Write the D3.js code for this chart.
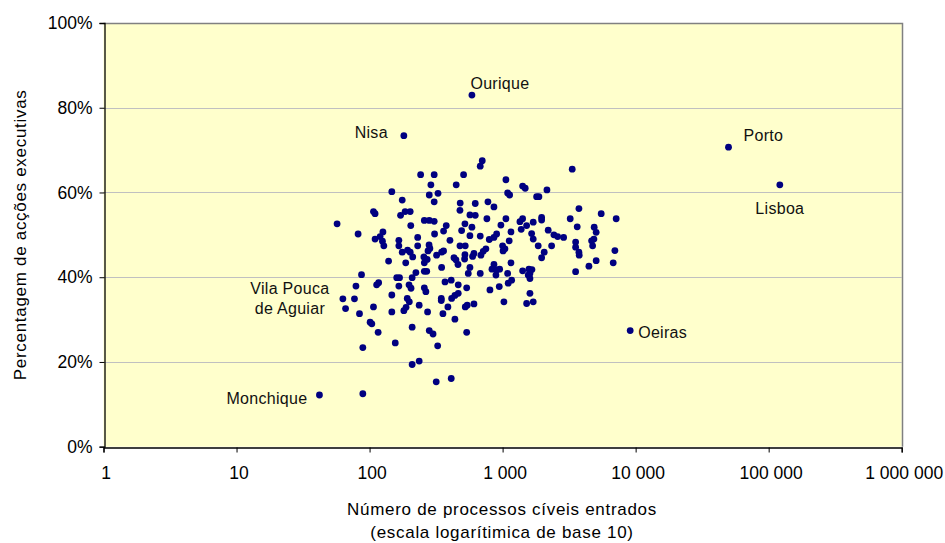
<!DOCTYPE html>
<html lang="pt">
<head>
<meta charset="utf-8">
<script src="https://cdn.jsdelivr.net/npm/d3@7"></script>
<style>
  html, body { margin: 0; padding: 0; background: #ffffff; }
  svg { display: block; font-family: "Liberation Sans", Arial, sans-serif; }
</style>
</head>
<body>
<svg id="chart" width="945" height="543"></svg>
<script>
// Número de processos cíveis entrados por comarca
const processos = [
  703, 679, 242, 306, 509, 289, 448, 147, 281, 327,
  176, 306, 480, 623, 776, 107, 110, 478, 185, 202,
  171, 568, 623, 762, 258, 281, 306, 57, 204, 521,
  377, 588, 360, 492, 82, 126, 120, 110, 125, 128,
  308, 230, 568, 679, 794, 166, 402, 280, 284, 275,
  166, 230, 478, 524, 176, 193, 202, 319, 348, 360,
  521, 518, 609, 595, 749, 715, 687, 211, 256, 271,
  258, 431, 446, 139, 187, 462, 348, 568, 552, 679,
  87, 160, 168, 223, 209, 258, 269, 369, 411, 79,
  113, 117, 166, 198, 205, 258, 265, 464, 537, 803,
  77, 147, 192, 199, 346, 346, 414, 438, 464, 107,
  188, 181, 236, 388, 524, 542, 609, 66, 84, 147,
  273, 356, 438, 101, 104, 116, 209, 281, 300, 537,
  156, 89, 325, 209, 236, 317, 411, 89,
  3337, 1059, 1414, 1479, 2154, 1091, 1129, 1802, 1875, 861,
  3747, 5510, 7140, 1059, 1414, 1350, 1380, 1965, 1965, 1699,
  1516, 3223, 3638, 971, 1155, 2202, 2430, 2592, 2875, 1653,
  1699, 4880, 5050, 902, 861, 1121, 4857, 4667, 4750, 3539,
  3539, 3747, 3766, 1000, 1041, 1008, 1852, 2336, 6985, 2055,
  1965, 5050, 6784, 4455, 1155, 861, 1414, 1577, 1661, 1605,
  1558, 1605, 3539, 832, 902, 950, 891, 1091, 1169, 1102,
  944, 1023, 1605, 1516, 1699
];

// Percentagem de acções executivas (%) na mesma ordem
const percentagem = [
  67.5, 66.2, 64.2, 64.2, 64.2, 61.8, 61.8, 60.2, 59.4, 59.8,
  58.2, 57.8, 57.5, 57.4, 57.8, 55.5, 55.0, 55.8, 55.5, 55.5,
  54.6, 54.7, 54.6, 53.8, 53.4, 53.4, 53.2, 52.6, 52.2, 52.6,
  52.2, 51.8, 50.9, 51.0, 50.2, 50.7, 49.6, 49.0, 48.5, 47.4,
  50.2, 49.4, 49.8, 49.7, 48.9, 48.7, 48.7, 47.6, 46.8, 46.2,
  47.4, 47.4, 47.4, 47.4, 45.9, 46.4, 45.9, 45.2, 45.9, 46.2,
  45.3, 44.3, 45.6, 44.9, 46.7, 46.1, 45.2, 44.8, 44.8, 44.2,
  43.4, 44.6, 44.1, 43.8, 43.4, 43.0, 42.3, 42.3, 40.9, 40.9,
  40.6, 39.9, 39.9, 41.1, 39.9, 41.4, 41.4, 38.9, 39.3, 37.9,
  38.2, 38.7, 37.9, 38.2, 37.4, 37.5, 36.6, 38.2, 37.5, 37.0,
  34.9, 35.8, 35.0, 34.2, 35.0, 34.5, 35.0, 35.7, 36.2, 33.0,
  32.9, 32.1, 33.4, 33.0, 33.0, 33.4, 33.7, 32.6, 31.4, 31.8,
  31.8, 31.4, 30.1, 29.4, 29.0, 27.0, 28.2, 27.4, 26.6, 27.0,
  24.5, 23.4, 23.8, 19.4, 20.2, 15.3, 16.1, 12.5,
  65.5, 63.0, 61.5, 61.0, 60.6, 59.9, 59.4, 59.0, 59.0, 56.6,
  56.2, 55.0, 53.8, 53.8, 53.8, 53.1, 51.3, 54.1, 53.5, 53.0,
  52.2, 53.8, 51.9, 52.3, 50.7, 51.1, 50.0, 49.6, 49.4, 50.3,
  49.0, 51.8, 50.6, 50.2, 49.4, 48.6, 49.0, 48.6, 47.4, 48.3,
  47.1, 45.9, 45.2, 47.4, 46.7, 46.2, 47.4, 47.4, 46.3, 45.9,
  44.6, 43.9, 43.4, 42.6, 43.4, 43.0, 41.5, 41.9, 41.8, 40.9,
  40.5, 39.7, 41.3, 41.9, 41.7, 41.9, 40.5, 40.9, 39.3, 38.6,
  37.8, 34.2, 36.2, 33.8, 34.2
];

// Comarcas assinaladas com o nome
const destaqueNomes = ["Ourique", "Nisa", "Porto", "Lisboa", "Oeiras", "Monchique", "Vila Pouca de Aguiar"];
const destaqueProcessos = [588, 181, 49900, 121300, 9100, 42, 63];
const destaquePercentagem = [83.0, 73.4, 70.7, 61.8, 27.4, 12.2, 34.9];

// Marcas dos eixos
const xTicks = [1, 10, 100, 1000, 10000, 100000, 1000000];
const yTicks = [0, 20, 40, 60, 80, 100];

// Posição dos rótulos em relação ao ponto
const rotuloLayout = {
  "Ourique":   { lines: ["Ourique"], anchor: "middle", dx: 28, dy: [-6] },
  "Nisa":      { lines: ["Nisa"], anchor: "end", dx: -16, dy: [2] },
  "Porto":     { lines: ["Porto"], anchor: "start", dx: 15, dy: [-6] },
  "Lisboa":    { lines: ["Lisboa"], anchor: "middle", dx: 0, dy: [29] },
  "Oeiras":    { lines: ["Oeiras"], anchor: "start", dx: 8, dy: [7] },
  "Monchique": { lines: ["Monchique"], anchor: "end", dx: -12, dy: [9] },
  "Vila Pouca de Aguiar": { lines: ["Vila Pouca", "de Aguiar"], anchor: "middle", dx: -53, dy: [-5, 15] }
};

const svg = d3.select("#chart");
const plot = { left: 103.5, right: 901.7, top: 23, bottom: 446.7 };

const x = d3.scaleLog().domain([1, 1000000]).range([plot.left, plot.right]);
const y = d3.scaleLinear().domain([0, 100]).range([plot.bottom, plot.top]);

const fmtMilhares = d => d3.format(",")(d).replace(/,/g, " ");

// Fundo da área do gráfico
svg.append("rect")
  .attr("x", plot.left).attr("y", plot.top)
  .attr("width", plot.right - plot.left).attr("height", plot.bottom - plot.top)
  .attr("fill", "#FFFFCC");

// Linhas de grelha horizontais
svg.append("g")
  .selectAll("line")
  .data(yTicks.filter(t => t > 0 && t < 100))
  .join("line")
  .attr("x1", plot.left).attr("x2", plot.right)
  .attr("y1", d => Math.round(y(d)) + 0.5).attr("y2", d => Math.round(y(d)) + 0.5)
  .attr("stroke", "#C0C0C0").attr("stroke-width", 1);

// Contorno superior e direito
svg.append("path")
  .attr("d", `M${plot.left},${Math.round(plot.top) + 0.5}H${Math.round(plot.right) + 0.5}V${plot.bottom}`)
  .attr("fill", "none").attr("stroke", "#808080").attr("stroke-width", 1.5);

// Eixo Y
const yAxis = svg.append("g")
  .attr("transform", `translate(${Math.round(plot.left) + 0.5},0)`)
  .call(d3.axisLeft(y).tickValues(yTicks).tickSize(5).tickPadding(7).tickFormat(d => d + "%"));
yAxis.select(".domain").attr("stroke", "#000").attr("stroke-width", 1.3);
yAxis.selectAll(".tick line").attr("stroke", "#000");
yAxis.selectAll(".tick text")
  .attr("font-size", 17.5).attr("fill", "#000")
  .attr("font-family", "Liberation Sans, Arial, sans-serif");

// Eixo X (logarítmico)
const xAxis = svg.append("g")
  .attr("transform", `translate(0,${Math.round(plot.bottom) + 0.5})`)
  .call(d3.axisBottom(x).tickValues(xTicks).tickSize(5).tickPadding(14).tickFormat(fmtMilhares));
xAxis.select(".domain").attr("stroke", "#000").attr("stroke-width", 1.3);
xAxis.selectAll(".tick line").attr("stroke", "#000");
xAxis.selectAll(".tick text")
  .attr("font-size", 17.5).attr("fill", "#000").attr("dx", 2)
  .attr("font-family", "Liberation Sans, Arial, sans-serif");

// Títulos dos eixos
svg.append("text")
  .attr("transform", `translate(26,${(plot.top + plot.bottom) / 2}) rotate(-90)`)
  .attr("text-anchor", "middle")
  .attr("font-size", 17).attr("letter-spacing", 0.7).attr("fill", "#000")
  .text("Percentagem de acções executivas");

const xTitle = svg.append("text")
  .attr("text-anchor", "middle")
  .attr("font-size", 17).attr("letter-spacing", 0.7).attr("fill", "#000");
xTitle.append("tspan").attr("x", 502).attr("y", 515).text("Número de processos cíveis entrados");
xTitle.append("tspan").attr("x", 502).attr("y", 538).text("(escala logarítimica de base 10)");

// Pontos
const pontos = processos.map((v, i) => ({ n: v, p: percentagem[i] }))
  .concat(destaqueNomes.map((nome, i) => ({ n: destaqueProcessos[i], p: destaquePercentagem[i], nome })));

svg.append("g")
  .selectAll("circle")
  .data(pontos)
  .join("circle")
  .attr("cx", d => x(d.n))
  .attr("cy", d => y(d.p))
  .attr("r", 3.4)
  .attr("fill", "#000080");

// Rótulos das comarcas assinaladas
const rotulos = svg.append("g")
  .attr("font-size", 16).attr("fill", "#111");
destaqueNomes.forEach((nome, i) => {
  const cfg = rotuloLayout[nome];
  const cx = x(destaqueProcessos[i]);
  const cy = y(destaquePercentagem[i]);
  const t = rotulos.append("text").attr("text-anchor", cfg.anchor).attr("letter-spacing", 0.3);
  cfg.lines.forEach((ln, k) => {
    t.append("tspan").attr("x", cx + cfg.dx).attr("y", cy + cfg.dy[k]).text(ln);
  });
});
</script>
</body>
</html>
